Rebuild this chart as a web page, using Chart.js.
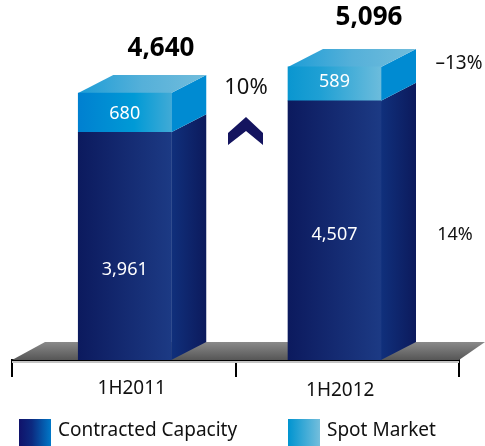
<!DOCTYPE html>
<html>
<head>
<meta charset="utf-8">
<script src="https://cdn.jsdelivr.net/npm/chart.js@4"></script>
<style>
  html, body { margin: 0; padding: 0; background: #fff; overflow: hidden; }
  #chart { display: block; }
</style>
</head>
<body>
<canvas id="chart" width="485" height="446"></canvas>
<script>
const categories = ["1H2011", "1H2012"];
const contracted = [3961, 4507];
const spot = [680, 589];
const totals = ["4,640", "5,096"];
const growthLabels = ["10%", "-13%", "14%"];
const seriesNames = ["Contracted Capacity", "Spot Market"];

const FONT = '"Noto Sans", sans-serif';
const DX = 35, DY = 18; // depth of the fake 3d
const BAR_W = 93;

function hGrad(ctx, x0, x1, stops) {
  const g = ctx.createLinearGradient(x0, 0, x1, 0);
  stops.forEach((s) => g.addColorStop(s[0], s[1]));
  return g;
}

function poly(ctx, pts, fill) {
  ctx.beginPath();
  pts.forEach((p, i) => (i ? ctx.lineTo(p[0], p[1]) : ctx.moveTo(p[0], p[1])));
  ctx.closePath();
  ctx.fillStyle = fill;
  ctx.fill();
}

function text(ctx, str, x, y, font, color, align) {
  ctx.font = font;
  ctx.fillStyle = color;
  ctx.textAlign = align || "center";
  ctx.textBaseline = "middle";
  ctx.fillText(str, x, y);
}

// bars do not sit in the middle of their category in the original
const barNudge = [1, -12.75];
const labelNudge = [8, -7];

function barFill(c, stops) {
  // chart.js also resolves this without a data index, before the scales are ready
  if (c.dataIndex === undefined) return stops[0][1];
  const l = c.chart.scales.x.getPixelForValue(c.dataIndex) + barNudge[c.dataIndex] - BAR_W / 2;
  if (!isFinite(l)) return stops[0][1];
  return hGrad(c.chart.ctx, l, l + BAR_W, stops);
}

const box3d = {
  id: "box3d",
  afterDatasetsUpdate(chart) {
    chart.data.datasets.forEach((ds, d) => {
      chart.getDatasetMeta(d).data.forEach((bar, i) => {
        bar.x += barNudge[i];
      });
    });
  },
  beforeDatasetsDraw(chart) {
    const { ctx, chartArea } = chart;
    const b = chartArea.bottom;
    // floor
    const floor = ctx.createLinearGradient(0, b - DY, 0, b);
    floor.addColorStop(0, "#8a8a8a");
    floor.addColorStop(1, "#565656");
    poly(ctx, [[chartArea.left, b], [chartArea.left + 33, b - DY], [485, b - DY], [chartArea.right, b]], floor);
    ctx.fillStyle = "#c4c4c4";
    ctx.fillRect(chartArea.left, b + 1, chartArea.right - chartArea.left, 2);

    const low = chart.getDatasetMeta(0).data;
    const up = chart.getDatasetMeta(1).data;
    low.forEach((bar, i) => {
      const r = bar.x + BAR_W / 2;
      const l = bar.x - BAR_W / 2;
      const mid = up[i].base;
      const top = up[i].y;
      // side faces
      poly(ctx, [[r, bar.base], [r + DX, bar.base - DY], [r + DX, mid - DY], [r, mid]],
        hGrad(ctx, r, r + DX, [[0, "#10307c"], [1, "#0c1a5c"]]));
      poly(ctx, [[r, mid], [r + DX, mid - DY], [r + DX, top - DY], [r, top]], "#008bd2");
      // top face
      poly(ctx, [[l, top], [l + DX, top - DY], [r + DX, top - DY], [r, top]],
        hGrad(ctx, l, r + DX, [[0, "#1d9dd6"], [0.5, "#55b0d9"], [1, "#72bddc"]]));
    });
  },
  afterDatasetsDraw(chart) {
    const { ctx } = chart;
    const x = chart.getDatasetMeta(0).data.map((bar) => bar.x);

    text(ctx, contracted[0].toLocaleString("en-US"), x[0], 270, "18px " + FONT, "#fff");
    text(ctx, contracted[1].toLocaleString("en-US"), x[1], 235, "18px " + FONT, "#fff");
    text(ctx, String(spot[0]), x[0], 114, "18px " + FONT, "#fff");
    text(ctx, String(spot[1]), x[1], 82, "18px " + FONT, "#fff");

    text(ctx, totals[0], 161, 49, "bold 26px " + FONT, "#000");
    text(ctx, totals[1], 369, 18, "bold 26px " + FONT, "#000");

    text(ctx, growthLabels[0], 246, 88, "22px " + FONT, "#111");
    text(ctx, growthLabels[1].replace("-", "\u2013"), 459, 64, "19px " + FONT, "#111");
    text(ctx, growthLabels[2], 455, 235, "18px " + FONT, "#111");

    // up chevron between the bars
    poly(ctx, [[228, 133], [246, 117], [263, 133], [263, 145], [246, 131], [228, 145]], "#14145f");

    // category labels, tick marks come from the axis
    const scale = chart.scales.x;
    const labelY = [389, 391];
    categories.forEach((c, i) => {
      text(ctx, c, scale.getPixelForTick(i) + labelNudge[i], labelY[i], "19px " + FONT, "#111");
    });

    // legend
    ctx.fillStyle = hGrad(ctx, 19, 51, [[0, "#10126a"], [0.4, "#0c2a80"], [1, "#0078c8"]]);
    ctx.fillRect(19, 419, 32, 27);
    ctx.fillStyle = hGrad(ctx, 288, 320, [[0, "#0094d0"], [1, "#74bedc"]]);
    ctx.fillRect(288, 419, 32, 27);
    text(ctx, seriesNames[0], 58, 431, "19px " + FONT, "#111", "left");
    text(ctx, seriesNames[1], 327, 431, "19px " + FONT, "#111", "left");
  },
};

const ctx = document.getElementById("chart").getContext("2d");

new Chart(ctx, {
  type: "bar",
  data: {
    labels: categories,
    datasets: [
      {
        label: seriesNames[0],
        data: contracted,
        barThickness: BAR_W,
        backgroundColor: (c) => barFill(c, [[0, "#0c1a5e"], [1, "#1c3a84"]]),
      },
      {
        label: seriesNames[1],
        data: spot,
        barThickness: BAR_W,
        backgroundColor: (c) => barFill(c, c.dataIndex === 0
          ? [[0, "#0080d0"], [0.6, "#009ad6"], [1, "#40aad6"]]
          : [[0, "#0a96d0"], [0.35, "#1fa0d4"], [1, "#6cbcdc"]]),
      },
    ],
  },
  options: {
    responsive: false,
    animation: false,
    layout: { padding: { left: 12, right: 26, top: 0, bottom: 0 } },
    plugins: { legend: { display: false }, tooltip: { enabled: false } },
    scales: {
      x: {
        stacked: true,
        afterFit: (scale) => {
          scale.height = 86;
        },
        border: { display: true, color: "#000", width: 2 },
        grid: {
          offset: true,
          drawOnChartArea: false,
          drawTicks: true,
          tickLength: 17,
          tickColor: "#000",
          lineWidth: 2,
        },
        ticks: { display: false },
      },
      y: { stacked: true, display: false, min: 0, max: 6260 },
    },
  },
  plugins: [box3d],
});
</script>
</body>
</html>
